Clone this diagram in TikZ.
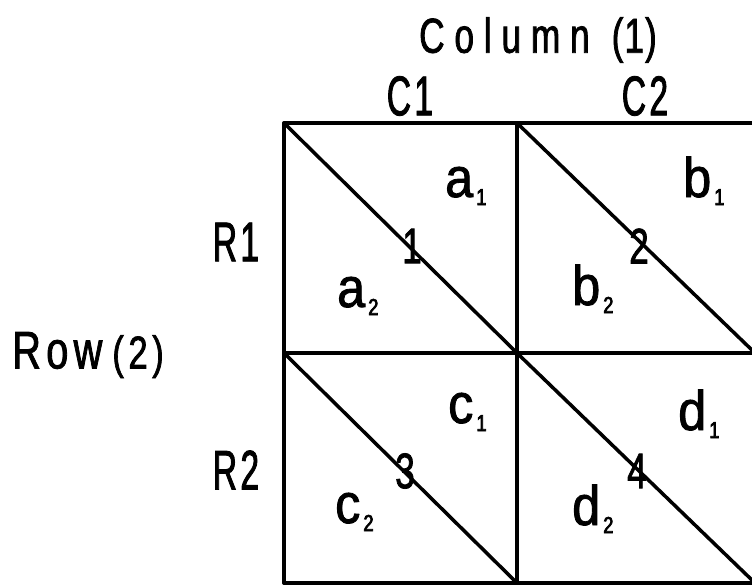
\documentclass[tikz,border=0pt]{standalone}
\usepackage{fontspec}
\setmainfont{Liberation Sans}
\newfontfamily\capfont[FakeStretch=0.6,LetterSpace=6,FakeBold=1.5]{Liberation Sans}
\newfontfamily\numfont[FakeStretch=0.7,FakeBold=1.5]{Liberation Sans}
\newfontfamily\colfont[FakeStretch=0.72,LetterSpace=20,FakeBold=1.5]{Liberation Sans}
\newfontfamily\parfont[FakeStretch=0.72,LetterSpace=2,FakeBold=1.5]{Liberation Sans}
\newfontfamily\rowfont[FakeStretch=0.75,LetterSpace=10,FakeBold=1.5]{Liberation Sans}
\newfontfamily\lowfont[FakeStretch=0.9,FakeBold=1.5]{Liberation Sans}
\newfontfamily\subfont[FakeStretch=0.8,FakeBold=3]{Liberation Sans}
\newcommand\lowsub[1]{\hspace{3pt}\raisebox{-8pt}{\subfont\fontsize{23}{23}\selectfont #1}}
\begin{document}
\begin{tikzpicture}[x=1pt,y=-1pt,
  gridline/.style={line width=3.5pt,line cap=round,line join=round},
  caplabel/.style={inner sep=0pt,font=\capfont\fontsize{56}{56}\selectfont},
  collabel/.style={inner sep=0pt,font=\colfont\fontsize{49}{49}\selectfont},
  rowlabel/.style={inner sep=0pt,font=\rowfont\fontsize{53}{53}\selectfont},
  cellnum/.style={inner sep=0pt,font=\numfont\fontsize{50}{50}\selectfont},
  celllabel/.style={inner sep=0pt,anchor=base west,font=\lowfont\fontsize{56}{56}\selectfont}]
\useasboundingbox (0,0) rectangle (752,586);
% grid corners
\coordinate (tl) at (284,123);
\coordinate (tm) at (517,123);
\coordinate (tr) at (755,123);
\coordinate (ml) at (284,353);
\coordinate (mm) at (517,353);
\coordinate (mr) at (755,353);
\coordinate (bl) at (284,583);
\coordinate (bm) at (517,583);
\coordinate (br) at (755,583);
% grid
\draw[gridline] (tl) -- (tr);
\draw[gridline] (ml) -- (mr);
\draw[gridline] (bl) -- (br);
\draw[gridline] (tl) -- (bl);
\draw[gridline] (tm) -- (bm);
\draw[gridline] (tr) -- (br);
% diagonals
\draw[gridline] (tl) -- (mm);
\draw[gridline] (tm) -- (mr);
\draw[gridline] (ml) -- (bm);
\draw[gridline] (mm) -- (br);
% headings
\node[collabel] (col) at (538,40) {Column\kern22pt{\parfont (1)}};
\node[caplabel] (c1) at (410,96) {C1};
\node[caplabel] (c2) at (645,96) {C2};
\node[caplabel] (r1) at (236,242) {R1};
\node[caplabel] (r2) at (236,470) {R2};
\node[rowlabel] (row) at (88,355) {Row\kern10pt{\fontsize{46}{46}\selectfont(2)}};
% cell numbers
\node[cellnum] (n1) at (412,246) {1};
\node[cellnum] (n2) at (639,246) {2};
\node[cellnum] (n3) at (405,471) {3};
\node[cellnum] (n4) at (637,471) {4};
% cell labels
\node[celllabel] (a1) at (445,197) {a\lowsub{1}};
\node[celllabel] (a2) at (337,307) {a\lowsub{2}};
\node[celllabel] (b1) at (683,197) {b\lowsub{1}};
\node[celllabel] (b2) at (572,305) {b\lowsub{2}};
\node[celllabel] (cc1) at (448,423) {c\lowsub{1}};
\node[celllabel] (cc2) at (335,523) {c\lowsub{2}};
\node[celllabel] (d1) at (678,430) {d\lowsub{1}};
\node[celllabel] (d2) at (572,525) {d\lowsub{2}};
\end{tikzpicture}
\end{document}
